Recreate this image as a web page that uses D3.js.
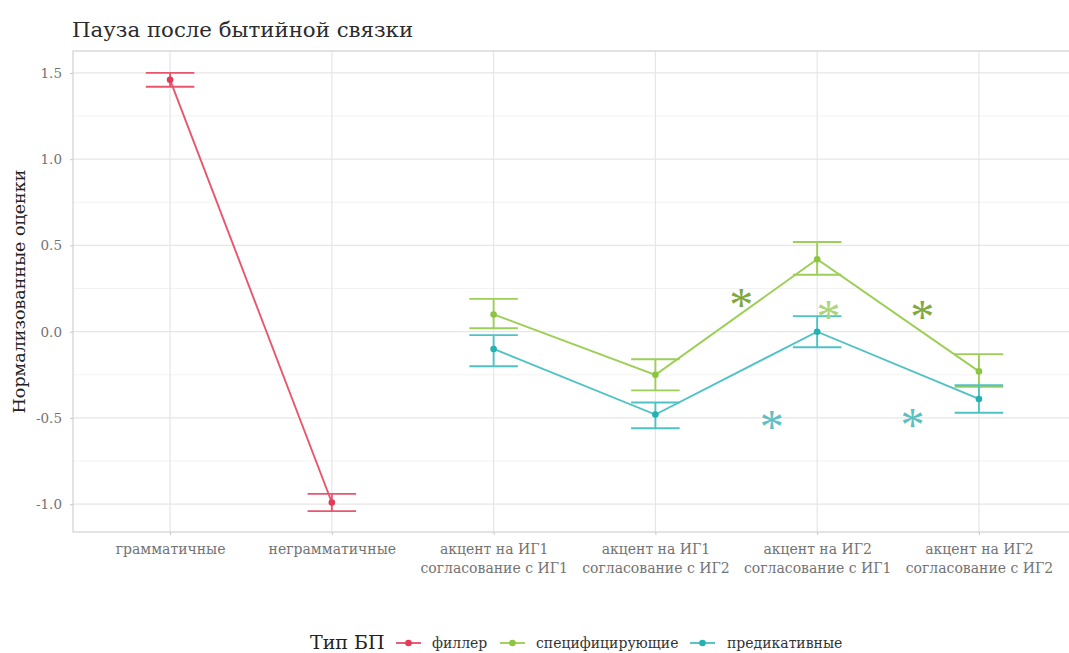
<!DOCTYPE html>
<html><head><meta charset="utf-8">
<script src="https://cdn.jsdelivr.net/npm/d3@7"></script>
<style>
html,body{margin:0;padding:0;background:#fff;}
svg{display:block;font-family:"DejaVu Serif",serif;}
</style></head>
<body><svg id="c" width="1069" height="653"></svg>
<script>
const categories = ["грамматичные","неграмматичные","акцент на ИГ1\nсогласование с ИГ1","акцент на ИГ1\nсогласование с ИГ2","акцент на ИГ2\nсогласование с ИГ1","акцент на ИГ2\nсогласование с ИГ2"];
const seriesNames = ["филлер","специфицирующие","предикативные"];
const fillerMean = [1.46,-0.99,null,null,null,null];
const fillerLow  = [1.42,-1.04,null,null,null,null];
const fillerHigh = [1.50,-0.94,null,null,null,null];
const specMean = [null,null,0.10,-0.25,0.42,-0.23];
const specLow  = [null,null,0.02,-0.34,0.33,-0.32];
const specHigh = [null,null,0.19,-0.16,0.52,-0.13];
const predMean = [null,null,-0.10,-0.48,0.00,-0.39];
const predLow  = [null,null,-0.20,-0.56,-0.09,-0.47];
const predHigh = [null,null,-0.02,-0.41,0.09,-0.31];
const yTicks = [-1.0,-0.5,0.0,0.5,1.0,1.5];
const yMinor = [-0.75,-0.25,0.25,0.75,1.25];
// significance marks: position along category axis (index), value, series
const starPos = [3.53,4.07,4.65,3.72,4.59];
const starVal = [0.18,0.11,0.11,-0.53,-0.515];
const starColor = ["#7fa83e","#acd47a","#7fa83e","#5cc0c2","#5cc0c2"];

const colors = {"филлер":"#e23a57","специфицирующие":"#8cc63f","предикативные":"#25b0b2"};
const lineColors = {"филлер":"#e8566d","специфицирующие":"#9dcf56","предикативные":"#4fc2c4"};

const FONT = "DejaVu Serif";
const svg = d3.select("#c");
const L=73, R=1076, T=51, B=532;
const x = d3.scalePoint().domain(categories).range([L,R]).padding(0.6);
const step = x.step();
const y = d3.scaleLinear().domain([-1.161,1.627]).range([B,T]);

// grid
const g = svg.append("g");
g.selectAll(".mn").data(yMinor).join("line").attr("x1",L).attr("x2",R)
 .attr("y1",d=>y(d)).attr("y2",d=>y(d)).attr("stroke","#f2f2f2").attr("stroke-width",1);
g.selectAll(".mj").data(yTicks).join("line").attr("x1",L).attr("x2",R)
 .attr("y1",d=>y(d)).attr("y2",d=>y(d)).attr("stroke","#e6e6e6").attr("stroke-width",1.2);
g.selectAll(".vx").data(categories).join("line").attr("y1",T).attr("y2",B)
 .attr("x1",d=>x(d)).attr("x2",d=>x(d)).attr("stroke","#e6e6e6").attr("stroke-width",1.2);
svg.append("rect").attr("x",L).attr("y",T).attr("width",R-L).attr("height",B-T)
 .attr("fill","none").attr("stroke","#d4d4d4").attr("stroke-width",1.3);

// axes
const yAxis = d3.axisLeft(y).tickValues(yTicks).tickFormat(d=>d.toFixed(1)).tickSize(3).tickPadding(8);
const ya = svg.append("g").attr("transform",`translate(${L},0)`).call(yAxis).attr("font-family",FONT);
ya.select(".domain").remove();
ya.selectAll("line").attr("stroke","#c8c8c8");
ya.selectAll("text").attr("fill","#737373").style("font-size","13.5px");

const xAxis = d3.axisBottom(x).tickSize(3).tickFormat("").tickPadding(4);
const xa = svg.append("g").attr("transform",`translate(0,${B})`).call(xAxis).attr("font-family",FONT);
xa.select(".domain").remove();
xa.selectAll("line").attr("stroke","#c8c8c8");
xa.selectAll(".tick").each(function(d){
  const lines = d.split("\n");
  const t = d3.select(this).append("text").attr("fill","#737373").attr("text-anchor","middle")
    .style("font-size","14px");
  lines.forEach((s,i)=>t.append("tspan").attr("x",0).attr("y",22+i*19).text(s));
});

// series
const series = [
  {name:"филлер",mean:fillerMean,low:fillerLow,high:fillerHigh},
  {name:"специфицирующие",mean:specMean,low:specLow,high:specHigh},
  {name:"предикативные",mean:predMean,low:predLow,high:predHigh}
];
const cap = step*0.3/2;
series.forEach(s=>{
  const pts = categories.map((c,i)=>({c,m:s.mean[i],lo:s.low[i],hi:s.high[i]})).filter(p=>p.m!==null);
  const gs = svg.append("g");
  gs.append("path").datum(pts).attr("fill","none").attr("stroke",lineColors[s.name]).attr("stroke-width",1.9)
    .attr("d",d3.line().x(p=>x(p.c)).y(p=>y(p.m)));
  const eb = gs.selectAll(".eb").data(pts).join("g").attr("stroke",lineColors[s.name]).attr("stroke-width",1.9);
  eb.append("line").attr("x1",p=>x(p.c)).attr("x2",p=>x(p.c)).attr("y1",p=>y(p.lo)).attr("y2",p=>y(p.hi));
  eb.append("line").attr("x1",p=>x(p.c)-cap).attr("x2",p=>x(p.c)+cap).attr("y1",p=>y(p.lo)).attr("y2",p=>y(p.lo));
  eb.append("line").attr("x1",p=>x(p.c)-cap).attr("x2",p=>x(p.c)+cap).attr("y1",p=>y(p.hi)).attr("y2",p=>y(p.hi));
  gs.selectAll("circle").data(pts).join("circle").attr("cx",p=>x(p.c)).attr("cy",p=>y(p.m)).attr("r",3.3)
    .attr("fill",colors[s.name]);
});

// stars
const x0 = x(categories[0]);
svg.selectAll(".star").data(starPos).join("text")
  .attr("x",(d)=>x0+d*step).attr("y",(d,i)=>y(starVal[i])).attr("dy","0.42em")
  .attr("text-anchor","middle").attr("fill",(d,i)=>starColor[i])
  .style("font-size","48px").style("font-family","Liberation Serif").text("*");

// title
svg.append("text").attr("x",72).attr("y",37).attr("fill","#2b2b2b").style("font-size","21.3px").text("Пауза после бытийной связки");
// y title
svg.append("text").attr("transform",`translate(25,${(T+B)/2}) rotate(-90)`).attr("text-anchor","middle")
  .attr("fill","#222").style("font-size","17.5px").text("Нормализованные оценки");

// legend
const lg = svg.append("g").attr("transform","translate(0,643)");
lg.append("text").attr("x",310).attr("y",6).attr("fill","#222").style("font-size","19px").text("Тип БП");
const keyX = [396,500,690];
const labX = [432,536,727];
seriesNames.forEach((n,i)=>{
  lg.append("line").attr("x1",keyX[i]).attr("x2",keyX[i]+25).attr("y1",0).attr("y2",0).attr("stroke",lineColors[n]).attr("stroke-width",1.9);
  lg.append("circle").attr("cx",keyX[i]+12.5).attr("cy",0).attr("r",3.3).attr("fill",colors[n]);
  lg.append("text").attr("x",labX[i]).attr("y",5).attr("fill","#333").style("font-size","14px").text(n);
});
</script></body></html>
